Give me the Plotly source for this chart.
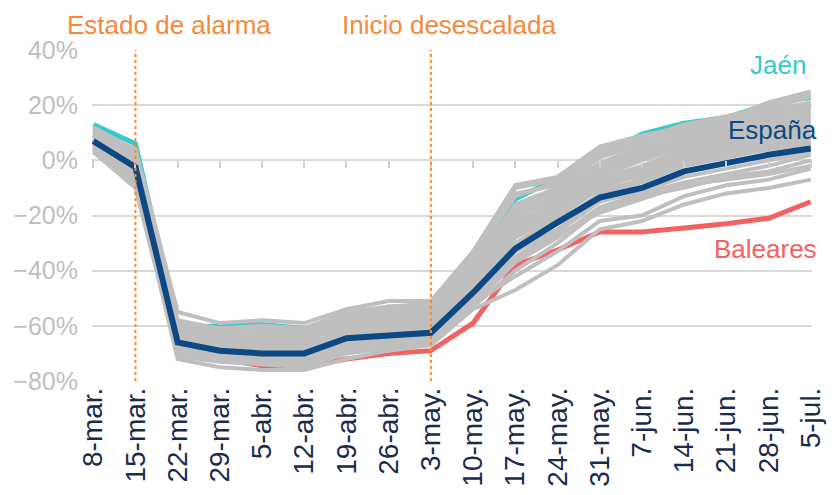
# Movilidad semanal por provincias frente a la referencia
import plotly.graph_objects as go

# Semanas (eje x)
semanas = ['8-mar.', '15-mar.', '22-mar.', '29-mar.', '5-abr.', '12-abr.',
           '19-abr.', '26-abr.', '3-may.', '10-may.', '17-may.', '24-may.',
           '31-may.', '7-jun.', '14-jun.', '21-jun.', '28-jun.', '5-jul.']

# Series destacadas (%)
espana = [7, -2.5, -66, -69, -70, -70, -64.5, -63.5, -62.5, -48, -32, -22.5,
          -13.5, -10, -4, -1, 2, 4.3]
jaen = [13, 6, -60.5, -60, -59.5, -61, -56, -55.5, -53, -38, -14, -6.5,
        1.5, 9.5, 13.5, 15.5, 20.5, 22.8]
baleares = [7, -3, -70, -72, -74.5, -75, -72, -70, -69, -59, -38, -32.5,
            -26, -26, -24.5, -23, -21, -15]

# Resto de provincias (%), en gris
gris_01 = [12, 4, -55, -59, -58, -59, -54, -51, -51, -33, -9, -6, 5, 9, 12, 15, 21, 25]
gris_02 = [11, 2, -58, -61, -60, -61, -56, -53, -52, -36, -13, -8, 3, 8, 13, 16, 19, 23]
gris_03 = [10, 1, -60, -62, -62, -62, -57, -55, -54, -38, -16, -10, 1, 6, 11, 14, 18, 21]
gris_04 = [9, 0, -61, -63, -63, -63, -58, -56, -55, -40, -18, -11, -1, 5, 9, 12, 16, 19]
gris_05 = [8, -1, -62, -64, -64, -64, -59, -57, -56, -41, -20, -13, -3, 3, 8, 11, 14, 17]
gris_06 = [10, 2, -62, -65, -65, -65, -60, -58, -57, -42, -21, -14, -4, 2, 7, 10, 13, 15]
gris_07 = [7, -2, -63, -65, -66, -66, -61, -59, -58, -43, -23, -15, -5, 1, 6, 9, 12, 14]
gris_08 = [8, -3, -64, -66, -67, -67, -62, -60, -59, -44, -24, -16, -6, 0, 5, 8, 11, 13]
gris_09 = [6, -4, -64, -67, -67, -68, -62, -61, -60, -45, -26, -18, -7, -2, 4, 7, 10, 12]
gris_10 = [9, 0, -65, -67, -68, -68, -63, -61, -60, -46, -27, -19, -8, -3, 3, 6, 9, 11]
gris_11 = [5, -5, -65, -68, -68, -69, -64, -62, -61, -47, -28, -20, -9, -4, 2, 5, 8, 10]
gris_12 = [7, -3, -66, -68, -69, -69, -64, -62, -62, -48, -30, -21, -10, -5, 1, 4, 7, 9]
gris_13 = [6, -6, -63, -66, -66, -67, -61, -58, -57, -44, -22, -17, -8, -6, 0, 3, 6, 8]
gris_14 = [4, -7, -67, -69, -70, -70, -65, -63, -63, -49, -31, -23, -12, -8, -2, 1, 4, 6]
gris_15 = [5, -6, -67, -70, -71, -71, -66, -64, -63, -50, -33, -25, -14, -10, -4, -1, 2, 5]
gris_16 = [3, -8, -68, -70, -71, -72, -67, -65, -64, -51, -35, -26, -15, -11, -6, -3, 0, 3]
gris_17 = [4, -9, -69, -71, -72, -73, -68, -66, -65, -52, -37, -28, -17, -12, -8, -5, -2, 2]
gris_18 = [3, -10, -70, -72, -73, -74, -69, -67, -66, -53, -40, -30, -18, -13, -10, -6, -4, 0]
gris_19 = [5, -8, -72, -75, -76, -76, -72, -69, -67, -54, -47, -38, -25, -22, -16, -12, -10, -7]
gris_20 = [6, -7, -71, -73, -74, -75, -70, -68, -66, -52, -42, -33, -22, -20, -13, -9, -7, -3]
gris_21 = [8, 0, -60, -61, -60, -61, -55, -53, -53, -35, -10, -7, 4, 8, 12, 15, 20, 24]
gris_22 = [11, 3, -59, -62, -61, -62, -57, -54, -53, -37, -12, -9, 2, 7, 10, 13, 17, 20]
gris_23 = [9, -1, -63, -64, -65, -65, -60, -57, -56, -40, -17, -12, -2, 4, 9, 13, 15, 18]
gris_24 = [7, -2, -64, -66, -67, -66, -61, -59, -58, -42, -19, -13, -3, 3, 8, 10, 12, 16]
gris_25 = [6, -4, -66, -67, -68, -68, -63, -60, -59, -45, -25, -17, -11, -7, -1, 2, 5, 7]
gris_26 = [4, -5, -68, -69, -70, -71, -66, -63, -62, -50, -36, -27, -19, -14, -9, -7, -5, -2]

grises = [gris_01, gris_02, gris_03, gris_04, gris_05, gris_06, gris_07, gris_08,
          gris_09, gris_10, gris_11, gris_12, gris_13, gris_14, gris_15, gris_16,
          gris_17, gris_18, gris_19, gris_20, gris_21, gris_22, gris_23, gris_24,
          gris_25, gris_26]

# Colores
naranja = '#F5893B'
azul = '#0B4884'
turquesa = '#33CCCC'
rojo = '#F26262'
gris = '#BFBFBF'
fuente = 'Liberation Sans, Arial, sans-serif'

fig = go.Figure()

# Provincias destacadas debajo del gris
fig.add_trace(go.Scatter(x=semanas, y=jaen, mode='lines',
                         line=dict(color=turquesa, width=5)))
fig.add_trace(go.Scatter(x=semanas, y=baleares, mode='lines',
                         line=dict(color=rojo, width=5)))

for serie in grises:
    fig.add_trace(go.Scatter(x=semanas, y=serie, mode='lines',
                             line=dict(color=gris, width=4)))

# España encima de todo
fig.add_trace(go.Scatter(x=semanas, y=espana, mode='lines',
                         line=dict(color=azul, width=6)))

# Traza invisible para el eje con marcas en el 0%
fig.add_trace(go.Scatter(x=semanas, y=espana, mode='lines', xaxis='x2',
                         line=dict(color='rgba(0,0,0,0)', width=1), hoverinfo='skip'))

# Lineas verticales punteadas
for fecha in ['15-mar.', '3-may.']:
    fig.add_shape(type='line', x0=fecha, x1=fecha, y0=-80, y1=40,
                  xref='x', yref='y', line=dict(color=naranja, width=2, dash='dot'))

# Textos (arriba, pegados al borde de la figura)
arriba = 1 + 42 / 331
fig.add_annotation(text='Estado de alarma', x=0.107, y=arriba, xref='paper', yref='paper',
                   xanchor='center', yanchor='top',
                   showarrow=False, font=dict(size=26, color=naranja))
fig.add_annotation(text='Inicio desescalada', x=0.496, y=arriba, xref='paper', yref='paper',
                   xanchor='center', yanchor='top',
                   showarrow=False, font=dict(size=26, color=naranja))
fig.add_annotation(text='Jaén', x=0.995, y=34.5, xref='paper', yref='y', xanchor='right',
                   showarrow=False, font=dict(size=26, color=turquesa))
fig.add_annotation(text='España', x=1.01, y=11, xref='paper', yref='y', xanchor='right',
                   showarrow=False, font=dict(size=26, color=azul))
fig.add_annotation(text='Baleares', x=1.01, y=-32, xref='paper', yref='y', xanchor='right',
                   showarrow=False, font=dict(size=26, color=rojo))

# La pagina deja 8 px de margen, asi que la figura es algo menor que la ventana
fig.update_layout(
    width=820, height=479,
    margin=dict(l=84, r=16, t=42, b=106, autoexpand=False),
    plot_bgcolor='white', paper_bgcolor='white',
    showlegend=False,
    font=dict(family=fuente),
    xaxis=dict(type='category', range=[-0.03, 17.03], showgrid=False, showline=False,
               ticks='', tickangle=-90, tickfont=dict(size=28, color='#1A2B4C'),
               zeroline=False),
    xaxis2=dict(type='category', overlaying='x', matches='x', anchor='free',
                position=80 / 120, side='bottom', ticks='outside', ticklen=7,
                tickwidth=2, tickcolor='#D0D0D0', showticklabels=False,
                showgrid=False, showline=False, zeroline=False),
    yaxis=dict(range=[-80, 40], dtick=20, ticksuffix='%', showgrid=True,
               gridcolor='#D9D9D9', gridwidth=2, zeroline=False,
               tickfont=dict(size=25, color='#BFBFBF'), ticklabelstandoff=13),
)

fig.write_html("out.html")
